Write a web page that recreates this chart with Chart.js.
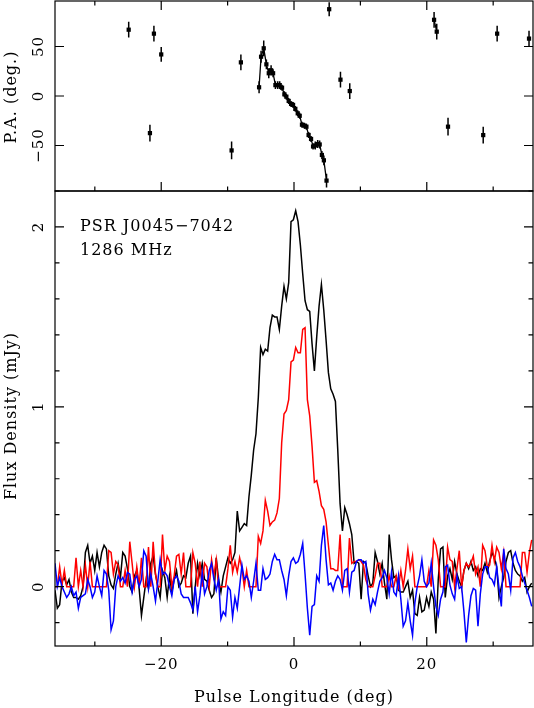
<!DOCTYPE html>
<html>
<head>
<meta charset="utf-8">
<script src="https://cdn.jsdelivr.net/npm/chart.js@4"></script>
<style>
  html, body { margin: 0; padding: 0; background: #fff; }
  #wrap { position: relative; width: 534px; height: 708px; }
  canvas { position: absolute; left: 0; }
  #paChart { top: 0; }
  #fluxChart { top: 190px; }
</style>
</head>
<body>
<div id="wrap">
  <canvas id="fluxChart" width="534" height="518"></canvas>
  <canvas id="paChart" width="534" height="192"></canvas>
</div>
<script>
// Profile bins start at -36 deg, 0.352 deg wide
const lonStart = -36.0;
const lonStep = 0.352;

// Total intensity (mJy), one value per bin
const totalI = [
  -0.02, -0.12, -0.10, 0.03, 0.05, 0.01, 0.04, -0.03, -0.06, -0.06,
  -0.07, -0.05, 0.00, 0.19, 0.23, 0.13, 0.17, 0.09, 0.19, 0.11,
  0.19, 0.23, 0.21, 0.06, 0.01, -0.01, 0.07, 0.13, 0.05, 0.19,
  0.17, 0.10, 0.00, -0.03, 0.06, 0.09, -0.01, -0.16, -0.06, 0.04,
  -0.01, 0.13, 0.17, 0.07, 0.00, -0.06, 0.09, 0.05, -0.06, 0.06,
  -0.03, 0.04, 0.09, 0.00, 0.02, 0.06, 0.05, 0.13, 0.17, -0.15,
  0.00, 0.13, 0.06, 0.13, 0.04, 0.03, -0.02, -0.06, -0.04,
  0.16, 0.04, -0.03, 0.06, 0.11, 0.16, 0.13, 0.15, 0.19,
  0.42, 0.31, 0.33, 0.35, 0.34, 0.50, 0.62, 0.76, 0.85, 1.05,
  1.33, 1.29, 1.32, 1.31, 1.44, 1.51, 1.50, 1.50, 1.43, 1.56,
  1.67, 1.60, 1.69, 2.03, 2.04, 2.09, 2.03, 1.90, 1.74, 1.59,
  1.54, 1.53, 1.35, 1.20, 1.39, 1.56, 1.68, 1.54, 1.37, 1.19,
  1.10, 1.07, 1.03, 0.76, 0.46, 0.31, 0.44, 0.40, 0.35, 0.29,
  0.13, 0.14, 0.13, -0.07, 0.14, 0.13, 0.06, 0.00, 0.02,
  0.19, 0.14, 0.07, 0.13, 0.02, -0.07, 0.29, 0.15, 0.05, 0.06,
  -0.02, -0.03, -0.03, 0.00, 0.03, -0.06, -0.02, -0.15, -0.16, -0.06,
  -0.14, -0.13, -0.06, -0.11, -0.03, -0.07, -0.26, 0.04, 0.21, 0.22,
  -0.06, 0.06, 0.10, 0.04, 0.14, 0.07, 0.03, 0.00, 0.09, 0.13,
  0.10, 0.14, 0.09, 0.11, 0.06, 0.10, 0.09, 0.13, 0.08, 0.14,
  0.19, 0.16, 0.11, -0.06, 0.00, 0.05, 0.14, 0.19, 0.20, 0.13,
  0.09, 0.07, 0.06, 0.03, 0.05, -0.03, 0.00, 0.02
];

// Linear polarisation (mJy)
const linearL = [
  0, 0, 0.11, 0.01, 0.09, 0, 0, 0, 0, 0.16,
  0, 0.09, 0, 0.12, 0, 0.14, 0, 0, 0, 0,
  0, 0, 0, 0.20, 0.19, 0.07, 0.14, 0.12, 0, 0,
  0.09, 0, 0.25, 0.13, 0, 0.11, 0, 0.16, 0, 0,
  0.22, 0, 0.25, 0.07, 0, 0, 0.29, 0.09, 0.17, 0.14,
  0, 0.06, 0.17, 0.18, 0.07, 0.19, 0, 0, 0, 0.19,
  0.13, 0, 0.14, 0, 0.13, 0.11, 0, 0.15, 0.06,
  0.15, 0, 0, 0, 0, 0.10, 0.23, 0.08, 0.14, 0.08,
  0.16, 0.10, 0, 0.09, 0, 0, 0, 0,
  0.28, 0.24, 0.31, 0.48, 0.42, 0.34, 0.36, 0.37, 0.41, 0.49,
  0.80, 0.96, 0.98, 1.04, 1.25, 1.26, 1.33, 1.30, 1.30, 1.43,
  1.44, 1.04, 0.95, 0.78, 0.58, 0.59, 0.53, 0.45, 0.43, 0.36,
  0.23, 0.10, 0.10, 0.09, 0.09, 0.29, 0, 0, 0, 0.27,
  0.13, 0.14, 0.14, 0.15, 0.14, 0.12, 0.04, 0, 0, 0,
  0.06, 0.13, 0.13, 0, 0, 0, 0.06, 0, 0, 0.06,
  0, 0.09, 0, 0.09, 0.21, 0.10, 0.17, 0, 0, 0,
  0, 0, 0, 0.09, 0, 0.26, 0.23, 0.15, 0, 0,
  0, 0.22, 0.15, 0.14, 0, 0.10, 0.20, 0, 0.09, 0.13,
  0.11, 0.13, 0.17, 0.07, 0.11, 0, 0.23, 0.20, 0.11, 0.12,
  0.23, 0.14, 0.22, 0.19, 0.10, 0.19, 0, 0, 0, 0,
  0, 0, 0, 0.19, 0.19, 0.08, 0.19, 0.26
];

// Circular polarisation (mJy)
const circularV = [
  0.13, 0, 0.05, 0, -0.03, -0.06, -0.04, 0, -0.05, -0.03,
  -0.12, -0.06, -0.05, -0.04, 0.04, 0, -0.06, -0.03, 0.06, 0,
  -0.05, 0.09, 0.07, -0.02, -0.24, -0.19, 0, 0.06, 0.03, 0.05,
  0.02, 0.08, 0.07, -0.03, 0.04, 0.06, 0, 0.04, 0.20, 0.17,
  -0.01, 0.07, 0, -0.08, 0.03, 0.15, 0.07, 0.08, 0.06, 0,
  -0.05, 0.04, 0.06, 0.03, -0.04, -0.06, -0.06, -0.06, -0.09, -0.13,
  0, -0.14, -0.05, 0.08, -0.04, 0, 0.09, 0.13, 0.04,
  -0.02, 0.04, -0.18, -0.14, -0.16, 0, -0.02, -0.17, -0.06, -0.12,
  0, 0.12, 0.04, 0.06, 0.03, -0.06, 0.03, 0.13, -0.02, -0.02,
  0.10, 0.04, 0.05, 0.07, 0.14, 0.18, 0.15, 0.15, 0.09, 0.04,
  -0.05, 0.06, 0.14, 0.16, 0.13, 0.14, 0.18, 0.24, 0.07, -0.12,
  -0.27, -0.11, -0.10, 0.06, 0.03, 0.23, 0.34, 0.15, 0.01, 0.02,
  -0.02, 0.03, 0.06, 0.04, -0.02, 0.09, 0.10, -0.03, 0.08, 0.09,
  0.14, 0.15, 0.15, 0.13, 0.14, -0.04, -0.13, -0.07,
  -0.10, -0.03, 0.03, 0.05, 0.09, 0.05, -0.04, 0.08, -0.03, -0.05,
  0.06, -0.07, -0.22, -0.19, -0.09, -0.19, -0.27, -0.09, 0, 0.06,
  0.15, 0.03, 0, 0.02, 0.13, 0, -0.11, -0.16, -0.07, -0.03,
  0.11, 0.12, 0.01, -0.04, -0.07, 0.06, -0.01, 0, -0.14, -0.31,
  -0.16, -0.05, -0.01, -0.02, -0.22, -0.04, 0.07, 0.11, 0.11, 0.05,
  0.04, 0.01, 0.11, -0.01, -0.11, 0.21, 0.10, 0.07, -0.02, 0.16,
  0.19, 0.14, 0.11, 0.06, 0.02, -0.02, -0.06, -0.11
];

// Position angle points: longitude, P.A., error, joined to previous point
const paLon = [
  -24.9, -21.7, -21.1, -20.0, -9.4, -8.0,
  -5.26, -4.96, -4.56, -4.16, -3.80, -3.45, -3.15, -2.80, -2.45, -2.15,
  -1.80, -1.45, -1.15, -0.80, -0.44, -0.14, 0.20, 0.56, 0.86, 1.20,
  1.57, 1.87, 2.20, 2.57, 2.87, 3.20, 3.57, 3.87, 4.20, 4.50, 4.90,
  5.3, 7.0, 8.4, 21.1, 21.5, 23.2, 28.5, 30.6, 35.4
];
const paVal = [
  67, -37.5, 63, 42, -55, 34,
  8.8, 39.7, 48.2, 32, 23, 26, 23, 11, 11, 11,
  8.4, 1.7, -0.7, -5, -8, -9, -13, -17.5, -20, -29,
  -30, -31, -39.4, -43.4, -51, -50, -48.5, -49, -59.6, -65, -85.5,
  87.7, 16.5, 5, 77, 65, -31, -39.5, 63, 58
];
const paErr = [
  8, 8.5, 8, 7.5, 9, 8,
  6, 6, 8, 5, 5, 5, 4, 4, 4, 4,
  3, 3, 3, 3, 3, 3, 3, 3, 3, 3,
  3, 3, 3, 3, 3, 4, 4, 4, 4, 5, 7,
  7, 8, 8, 8, 8, 9, 8.5, 8, 8
];
const paJoin = [
  false, false, false, false, false, false,
  false, true, true, true, true, true, true, true, true, true,
  true, true, true, true, true, true, true, true, true, true,
  true, true, true, true, true, true, true, true, true, true, true,
  false, false, false, false, true, false, false, false, false
];

const xTicks = [-20, 0, 20];
const xTickLabels = ['\u221220', '0', '20'];
const paTicks = [-50, 0, 50];
const paTickLabels = ['\u221250', '0', '50'];
const fluxTicks = [0, 1, 2];
const fluxTickLabels = ['0', '1', '2'];

const serif = '"DejaVu Serif", "Liberation Serif", serif';

function binPoints(values) {
  return values.map((v, i) => ({ x: lonStart + i * lonStep, y: v }));
}

const paPoints = [];
paLon.forEach((lon, k) => {
  if (k > 0 && !paJoin[k]) paPoints.push({ x: lon, y: null });
  paPoints.push({ x: lon, y: paVal[k] });
});

// rotated text, reading bottom to top, baseline at x
function vText(ctx, text, x, y, size) {
  ctx.save();
  ctx.translate(x, y);
  ctx.rotate(-Math.PI / 2);
  ctx.font = size + 'px ' + serif;
  ctx.letterSpacing = '1px';
  ctx.textAlign = 'center';
  ctx.textBaseline = 'alphabetic';
  ctx.fillText(text, 0, 0);
  ctx.restore();
}

// PGPLOT-like box: frame, inward ticks, labels
const pgFrame = {
  id: 'pgFrame',
  afterDatasetsDraw(chart, args, o) {
    const { ctx, chartArea: a, scales: { x, y } } = chart;
    ctx.save();
    ctx.strokeStyle = '#000';
    ctx.fillStyle = '#000';
    ctx.lineWidth = 1.2;
    ctx.strokeRect(a.left, a.top, a.right - a.left, a.bottom - a.top);
    ctx.beginPath();
    for (let v = -30; v <= 30; v += 10) {
      const px = x.getPixelForValue(v);
      const len = v % 20 === 0 ? 9 : 4.5;
      ctx.moveTo(px, a.bottom); ctx.lineTo(px, a.bottom - len);
      if (o.topTicks) { ctx.moveTo(px, a.top); ctx.lineTo(px, a.top + len); }
    }
    o.yTicks.forEach(v => {
      const py = y.getPixelForValue(v);
      ctx.moveTo(a.left, py); ctx.lineTo(a.left + 9, py);
      ctx.moveTo(a.right, py); ctx.lineTo(a.right - 9, py);
    });
    if (o.yMinor) {
      for (let v = Math.ceil(y.min / o.yMinor) * o.yMinor; v <= y.max; v += o.yMinor) {
        const py = y.getPixelForValue(v);
        ctx.moveTo(a.left, py); ctx.lineTo(a.left + 4.5, py);
        ctx.moveTo(a.right, py); ctx.lineTo(a.right - 4.5, py);
      }
    }
    ctx.stroke();

    o.yTicks.forEach((v, k) => vText(ctx, o.yLabels[k], 42.5, y.getPixelForValue(v), 15));
    vText(ctx, o.yTitle, 16, o.yTitleY, 16);

    if (o.xLabels) {
      ctx.font = '15px ' + serif;
      ctx.letterSpacing = '1px';
      ctx.textAlign = 'center';
      ctx.textBaseline = 'alphabetic';
      xTicks.forEach((v, k) => ctx.fillText(xTickLabels[k], x.getPixelForValue(v), a.bottom + 23));
      ctx.font = '16px ' + serif;
      ctx.fillText('Pulse Longitude (deg)', (a.left + a.right) / 2, a.bottom + 56);
    }
    if (o.notes) {
      ctx.font = '16px ' + serif;
      ctx.letterSpacing = '1px';
      ctx.textAlign = 'left';
      o.notes.forEach((t, k) => ctx.fillText(t, 80, a.top + 40 + k * 23.5));
    }
    ctx.restore();
  }
};

// vertical error bars on the P.A. points
const paErrors = {
  id: 'paErrors',
  afterDatasetsDraw(chart) {
    const { ctx, scales: { x, y } } = chart;
    ctx.save();
    ctx.strokeStyle = '#000';
    ctx.lineWidth = 1.5;
    ctx.beginPath();
    paLon.forEach((lon, k) => {
      const px = x.getPixelForValue(lon);
      ctx.moveTo(px, y.getPixelForValue(paVal[k] - paErr[k]));
      ctx.lineTo(px, y.getPixelForValue(paVal[k] + paErr[k]));
    });
    ctx.stroke();
    ctx.restore();
  }
};

const common = {
  responsive: false,
  animation: false,
  devicePixelRatio: 1,
  events: [],
  plugins: { legend: { display: false }, tooltip: { enabled: false } }
};

new Chart(document.getElementById('paChart'), {
  type: 'line',
  data: {
    datasets: [{
      data: paPoints,
      borderColor: '#000',
      backgroundColor: '#000',
      borderWidth: 1.3,
      pointStyle: 'rect',
      pointRadius: 3,
      pointBorderWidth: 0,
      pointBackgroundColor: '#000',
      spanGaps: false,
      tension: 0
    }]
  },
  options: Object.assign({}, common, {
    layout: { padding: { left: 55, right: 1, top: 1, bottom: 1 }, autoPadding: false },
    scales: {
      x: { type: 'linear', min: -36, max: 36, display: false },
      y: { min: -96, max: 96, display: false }
    },
    plugins: Object.assign({}, common.plugins, {
      pgFrame: {
        topTicks: true, yTicks: paTicks, yLabels: paTickLabels,
        yTitle: 'P.A. (deg.)', yTitleY: 97
      }
    })
  }),
  plugins: [paErrors, pgFrame]
});

new Chart(document.getElementById('fluxChart'), {
  type: 'line',
  data: {
    datasets: [
      { data: binPoints(totalI), borderColor: '#000000', borderWidth: 1.5, pointRadius: 0, tension: 0, order: 3 },
      { data: binPoints(linearL), borderColor: '#ff0000', borderWidth: 1.5, pointRadius: 0, tension: 0, order: 2 },
      { data: binPoints(circularV), borderColor: '#0000ff', borderWidth: 1.5, pointRadius: 0, tension: 0, order: 1 }
    ]
  },
  options: Object.assign({}, common, {
    layout: { padding: { left: 55, right: 1, top: 1, bottom: 62 }, autoPadding: false },
    scales: {
      x: { type: 'linear', min: -36, max: 36, display: false },
      y: { min: -0.33, max: 2.2, display: false }
    },
    plugins: Object.assign({}, common.plugins, {
      pgFrame: {
        topTicks: false, yTicks: fluxTicks, yLabels: fluxTickLabels, yMinor: 0.2,
        yTitle: 'Flux Density (mJy)', yTitleY: 226, xLabels: true,
        notes: ['PSR J0045\u22127042', '1286 MHz']
      }
    })
  }),
  plugins: [pgFrame]
});
</script>
</body>
</html>
